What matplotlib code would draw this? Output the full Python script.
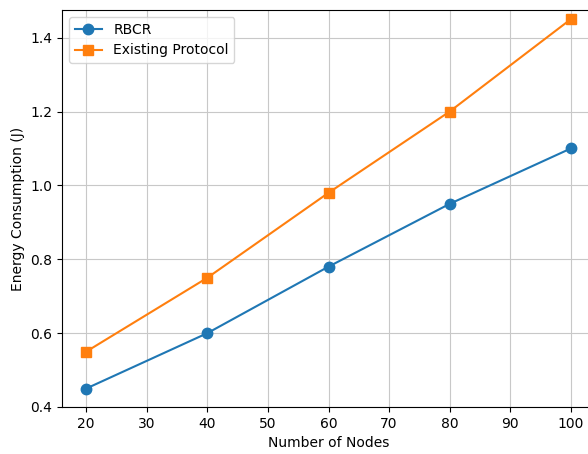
import matplotlib
matplotlib.use("Agg")
import matplotlib.pyplot as plt

# number of nodes and energy used by each protocol
nodes = [20, 40, 60, 80, 100]
rbcr = [0.45, 0.60, 0.78, 0.95, 1.10]
existing = [0.55, 0.75, 0.98, 1.20, 1.45]

fig = plt.figure(figsize=(5.88, 4.54), dpi=100)
# the original picture is cropped, so the axes run a bit past the right edge
ax = fig.add_axes([62 / 588, 1 - 407 / 454, 533 / 588, 397 / 454])

ax.plot(nodes, rbcr, marker='o', markersize=7.5, label="RBCR")
ax.plot(nodes, existing, marker='s', markersize=7.5, label="Existing Protocol")

ax.set_ylim(0.4, 1.475)
ax.set_xticks([20, 30, 40, 50, 60, 70, 80, 90, 100])
ax.set_xlabel("Number of Nodes")
ax.set_ylabel("Energy Consumption (J)")
# only the bottom of the title shows in the cropped original
ax.set_title("Comparison of Energy Consumption by Number of Nodes", pad=11.5)
ax.grid(True, color="#c8c8c8")
ax.legend(loc="upper left")

fig.savefig("out.png", dpi=100)
